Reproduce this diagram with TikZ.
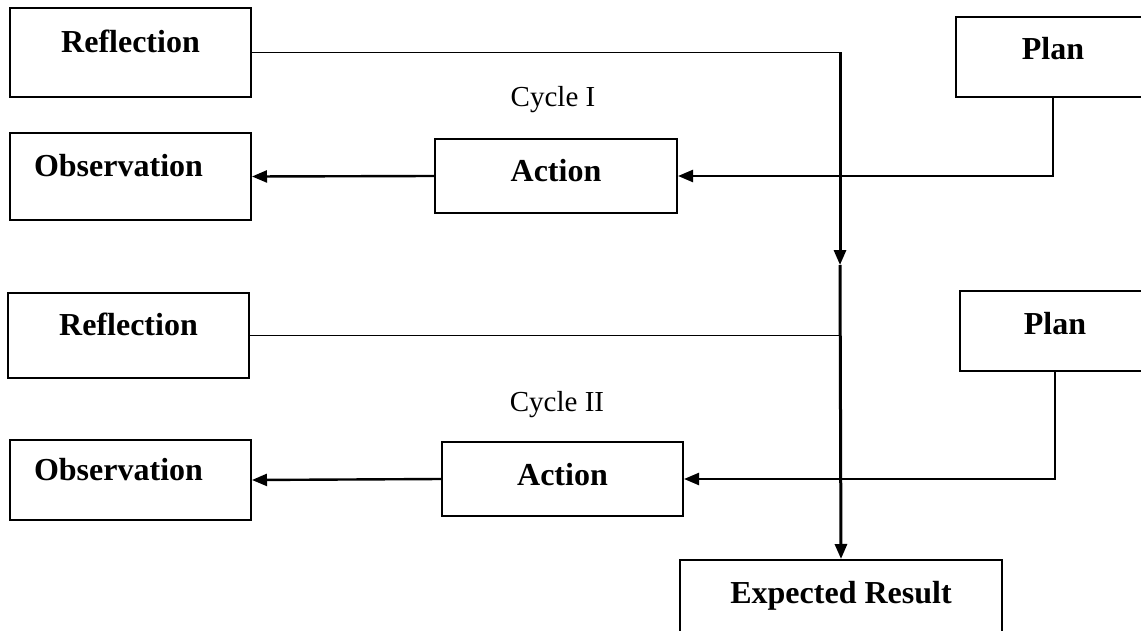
\documentclass[tikz,border=0pt]{standalone}
\usepackage{fontspec}
\setmainfont{Liberation Serif}
\usepackage{tikz}
\usetikzlibrary{arrows.meta}
\tikzstyle{box}=[draw,rectangle,line width=1pt,inner sep=0pt,font=\fontsize{16}{19}\selectfont\bfseries]
\tikzstyle{cycle}=[font=\fontsize{14.5}{17}\selectfont]
\tikzstyle{line}=[draw,line width=0.8pt]
\tikzstyle{arrow}=[draw,line width=1.2pt,-{Triangle[length=7.5pt,width=6pt]}]
\tikzstyle{main}=[draw,line width=1.5pt,-{Triangle[length=7.5pt,width=6pt]}]

\begin{document}
\begin{tikzpicture}[x=0.5pt,y=-0.5pt]
    \useasboundingbox (0,0) rectangle (1141,631);
    \clip (0,0) rectangle (1141,631);
    \foreach \name/\pos/\bw/\bh/\td/\txt in {{refl1/(130.5,52.5)/120.5/44.5/8/Reflection},
        {obs1/(130.5,176.5)/120.5/43.5/8/Observation\kern12pt}, {act1/(556,176)/121/37/2/Action},
        {plan1/(1053,57)/97/40/5/Plan}, {refl2/(128.5,335.5)/120.5/42.5/8/Reflection},
        {obs2/(130.5,480)/120.5/40/8/Observation\kern12pt}, {act2/(562.5,479)/120.5/37/2/Action},
        {plan2/(1055,331)/95/40/5/Plan}, {result/(841,603)/161/43/8/Expected Result}}
        \node[box,minimum width=\bw pt,minimum height=\bh pt,text height=8pt,text depth=\td pt] (\name) at \pos {\txt};
    \node[cycle] (cyc1) at (553,100) {Cycle I};
    \node[cycle] (cyc2) at (557,405) {Cycle II};
    \coordinate (top) at (840,52.5);
    \coordinate (mid) at (840,265);
    \coordinate (join) at (840,335.5);
    \path[line] (refl1.east) -- (top);
    \path[main] (top) -- (mid);
    \path[main] (mid) -- (result.north);
    \path[line] (refl2.east) -- (join);
    \foreach \source/\dest in {plan1/act1, plan2/act2}
        \path[arrow] (\source.south) |- (\dest.east);
    \foreach \source/\dest in {act1/obs1, act2/obs2}
        \path[arrow] (\source.west) -- (\dest.east);
\end{tikzpicture}
\end{document}
